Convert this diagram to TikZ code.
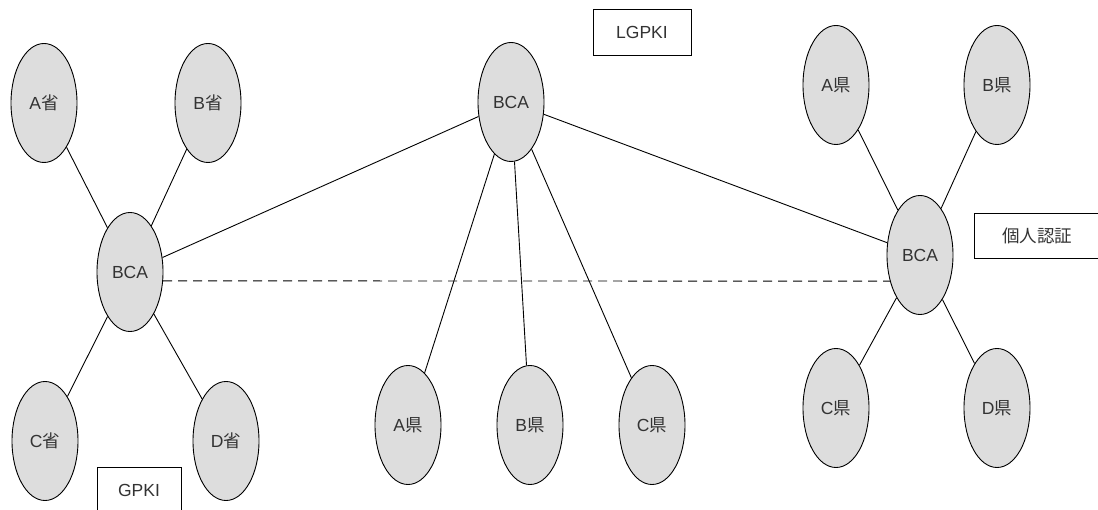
\documentclass[tikz,border=0pt]{standalone}
\usepackage{fontspec}
\setmainfont{Liberation Sans}
\newfontfamily\cjk{Noto Sans CJK JP}
\usetikzlibrary{shapes.geometric}
\tikzset{
  org/.style={ellipse, draw=black, fill=gray!27, line width=0.9pt,
    minimum width=66pt, minimum height=119pt, inner sep=0pt,
    text=black!80, font=\fontsize{17.5}{20}\selectfont},
  label box/.style={rectangle, draw=black, fill=white, line width=0.9pt,
    inner sep=0pt, text=black!80, font=\fontsize{17.5}{20}\selectfont},
  link/.style={draw=black, line width=0.9pt},
}
\begin{document}
\begin{tikzpicture}[x=1pt, y=-1pt]
  \useasboundingbox (0,0) rectangle (1098,510);
  \clip (0,0) rectangle (1098,510);

  % GPKI side
  \node[org] (gbca) at (130,272) {BCA};
  \node[org] (ga) at (44,103) {A{\cjk 省}};
  \node[org] (gb) at (208,103) {B{\cjk 省}};
  \node[org] (gc) at (45,441) {C{\cjk 省}};
  \node[org] (gd) at (226,441) {D{\cjk 省}};
  \node[label box, minimum width=84pt, minimum height=50pt] (gpki) at (139,492) {};
  \node[text=black!80, font=\fontsize{17.5}{20}\selectfont] (gpkit) at (139,490) {GPKI};

  % LGPKI bridge
  \node[org] (lbca) at (511,102) {BCA};
  \node[org] (la) at (408,425) {A{\cjk 県}};
  \node[org] (lb) at (530,425) {B{\cjk 県}};
  \node[org] (lc) at (652,425) {C{\cjk 県}};
  \node[label box, minimum width=98pt, minimum height=46pt] (lgpki) at (642,32) {LGPKI};

  % public individual authentication side
  \node[org] (pbca) at (920,255) {BCA};
  \node[org] (pa) at (836,85) {A{\cjk 県}};
  \node[org] (pb) at (997,85) {B{\cjk 県}};
  \node[org] (pc) at (836,408) {C{\cjk 県}};
  \node[org] (pd) at (997,408) {D{\cjk 県}};
  \node[label box, minimum width=126pt, minimum height=45pt] (jpki) at (1037,236) {};
  \node[text=black!80, font=\fontsize{17.5}{20}\selectfont\cjk] (jpkit) at (1037,236) {個人認証};

  % connections
  \foreach \n in {ga,gb,gc,gd} \draw[link] (gbca) -- (\n);
  \foreach \n in {la,lb,lc} \draw[link] (lbca) -- (\n);
  \foreach \n in {pa,pb,pc,pd} \draw[link] (pbca) -- (\n);
  \draw[link] (lbca) -- (gbca);
  \draw[link] (lbca) -- (pbca);
  \draw[link, dash pattern=on 9pt off 6pt] (gbca.-15.4) -- (pbca.221.2);
\end{tikzpicture}
\end{document}
